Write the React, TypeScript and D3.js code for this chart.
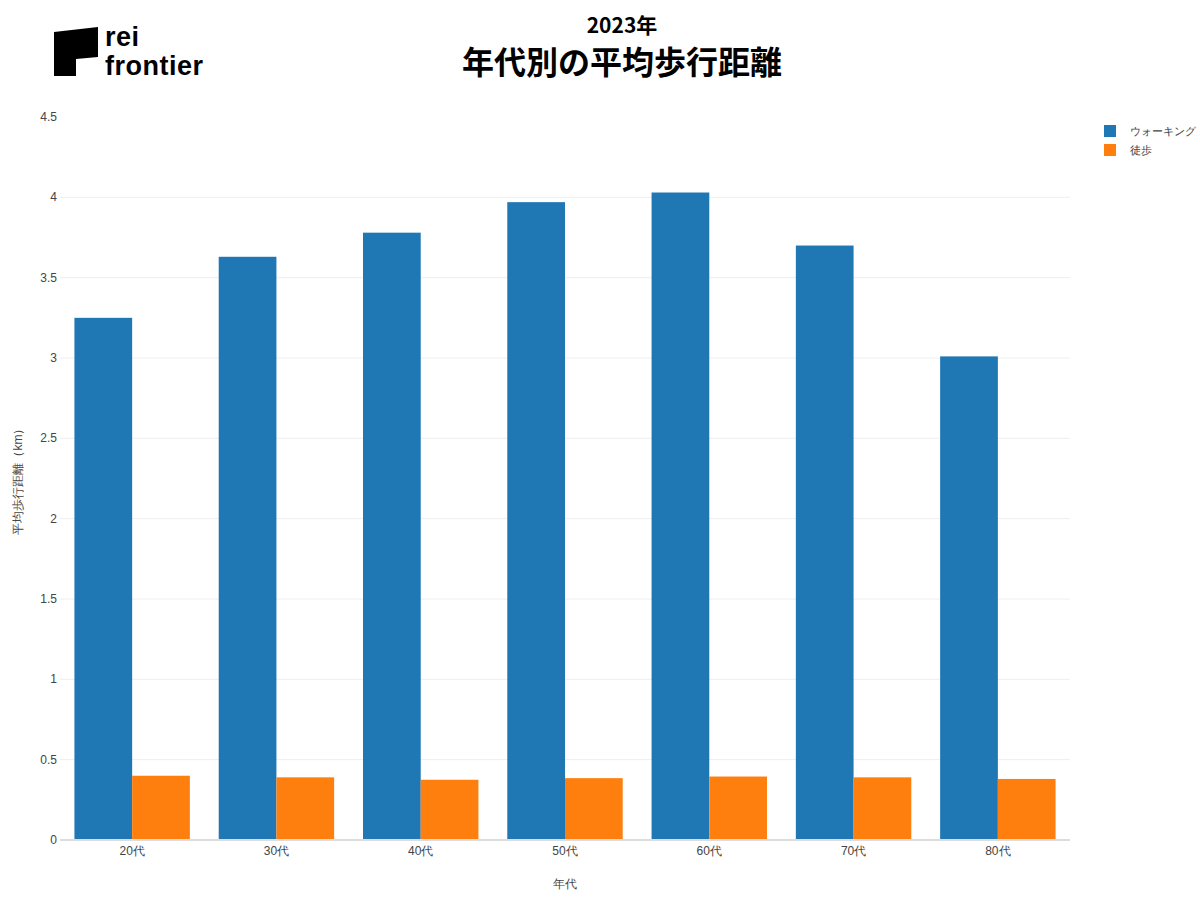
import React from "react";
import * as d3 from "d3";

const categories = ["20代", "30代", "40代", "50代", "60代", "70代", "80代"];
const walking = [3.25, 3.63, 3.78, 3.97, 4.03, 3.7, 3.01];
const toho = [0.4, 0.39, 0.375, 0.385, 0.395, 0.39, 0.38];
const seriesNames = ["ウォーキング", "徒歩"];
const seriesColors = ["#1f77b4", "#ff7f0e"];
const yTicks = [0, 0.5, 1, 1.5, 2, 2.5, 3, 3.5, 4, 4.5];

const W = 1200;
const H = 900;
const M = { left: 60, right: 1070, top: 117, bottom: 840 };

export default function App() {
  const x = d3
    .scaleBand<string>()
    .domain(categories)
    .range([M.left, M.right])
    .paddingInner(0.2)
    .paddingOuter(0.1);
  const xs = d3.scaleBand<number>().domain([0, 1]).range([0, x.bandwidth()]);
  const y = d3.scaleLinear().domain([0, 4.5]).range([M.bottom, M.top]);
  const series = [walking, toho];
  const tickFont = "'Liberation Sans', Arial, sans-serif";
  const cjk = "'Noto Sans CJK JP', 'Noto Sans', sans-serif";

  return (
    <svg width={W} height={H} style={{ display: "block", position: "absolute", left: 0, top: 0 }}>
      <rect width={W} height={H} fill="#fff" />
      {/* logo */}
      <polygon points="54,32 98,27 98,57 76,59 76,76 54,76" fill="#000" />
      <text x={105} y={46} fontFamily={tickFont} fontWeight="bold" fontSize={27} letterSpacing={0.5} fill="#000">rei</text>
      <text x={105} y={75} fontFamily={tickFont} fontWeight="bold" fontSize={27} letterSpacing={0.5} fill="#000">frontier</text>

      {/* titles */}
      <text x={622} y={33} textAnchor="middle" fontFamily={cjk} fontWeight="bold" fontSize={21} fill="#000">2023年</text>
      <text x={622} y={74} textAnchor="middle" fontFamily={cjk} fontWeight="bold" fontSize={32} fill="#000">年代別の平均歩行距離</text>

      {/* grid */}
      {yTicks.map((t) => (
        <g key={t}>
          {t > 0 && t < 4.5 && (
            <line x1={M.left} x2={M.right} y1={y(t)} y2={y(t)} stroke="#eeeeee" strokeWidth={1} />
          )}
          <text x={57} y={y(t) + 4} textAnchor="end" fontFamily={tickFont} fontSize={12} fill="#444">
            {String(t)}
          </text>
        </g>
      ))}

      {/* bars */}
      {categories.map((c, i) => (
        <g key={c}>
          {series.map((s, j) => (
            <rect
              key={j}
              x={(x(c) as number) + (xs(j) as number)}
              y={y(s[i])}
              width={xs.bandwidth()}
              height={y(0) - y(s[i])}
              fill={seriesColors[j]}
            />
          ))}
          <text
            x={(x(c) as number) + x.bandwidth() / 2}
            y={M.bottom + 15}
            textAnchor="middle"
            fontFamily={tickFont}
            fontSize={12}
            fill="#444"
          >
            {c}
          </text>
        </g>
      ))}
      <line x1={M.left} x2={M.right} y1={y(0)} y2={y(0)} stroke="#dddddd" strokeWidth={2} />

      {/* axis titles */}
      <text x={565} y={888} textAnchor="middle" fontFamily={tickFont} fontSize={12} fill="#444">年代</text>
      <text
        transform={`translate(22,${(M.top + M.bottom) / 2}) rotate(-90)`}
        textAnchor="middle"
        fontFamily={tickFont}
        fontSize={12}
        fill="#444"
      >
        平均歩行距離（km）
      </text>

      {/* legend */}
      {seriesNames.map((n, j) => (
        <g key={n} transform={`translate(1104,${125 + j * 19})`}>
          <rect width={12} height={12} fill={seriesColors[j]} />
          <text x={26} y={10} fontFamily={tickFont} fontSize={11} fill="#444">{n}</text>
        </g>
      ))}
    </svg>
  );
}
